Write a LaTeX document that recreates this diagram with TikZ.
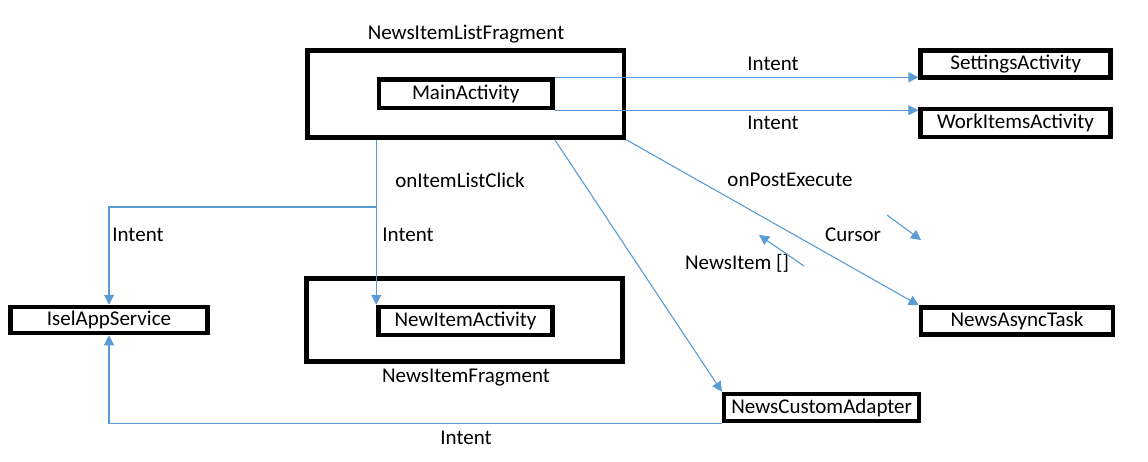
\documentclass[tikz,border=0pt]{standalone}
\usepackage{fontspec}
\setmainfont{Carlito}
\usetikzlibrary{arrows.meta,calc}
\definecolor{lineblue}{RGB}{91,155,213}
\tikzset{
  box/.style={draw=black, line width=4.5pt, rectangle, inner sep=0pt, fill=white,
    font=\fontsize{21}{25}\selectfont},
  lbl/.style={inner sep=0pt, font=\fontsize{21}{25}\selectfont},
  conn/.style={draw=lineblue, line width=1.1pt, -{Triangle[length=10pt,width=10pt]}},
  plain/.style={draw=lineblue, line width=1.1pt}
}
\begin{document}
\begin{tikzpicture}[x=1pt,y=-1pt]
\useasboundingbox (0,0) rectangle (1148,461);
% containers
\node[box, minimum width=316.5pt, minimum height=87pt] (lf) at (465.75,94) {};
\node[box, minimum width=316pt, minimum height=83pt] (if) at (464.5,320) {};
% boxes
\node[box, minimum width=173.5pt, minimum height=28.5pt] (ma) at (465.75,93.75) {MainActivity};
\node[box, minimum width=190pt, minimum height=27pt] (sa) at (1015.7,64.2) {SettingsActivity};
\node[box, minimum width=190pt, minimum height=28pt] (wa) at (1015.5,123) {WorkItemsActivity};
\node[box, minimum width=192pt, minimum height=27pt] (nat) at (1017,321) {NewsAsyncTask};
\node[box, minimum width=195pt, minimum height=27pt] (nca) at (821.7,407.5) {NewsCustomAdapter};
\node[box, minimum width=197pt, minimum height=26pt] (isel) at (109,320) {IselAppService};
\node[box, minimum width=174pt, minimum height=28pt] (ni) at (465.5,321) {NewItemActivity};
% labels
\node[lbl] (tlf) at (466,34) {NewsItemListFragment};
\node[lbl] (tif) at (466,378) {NewsItemFragment};
\node[lbl] (l1) at (773,64) {Intent};
\node[lbl] (l2) at (773,123) {Intent};
\node[lbl] (l3) at (460,180) {onItemListClick};
\node[lbl] (l4) at (138,235) {Intent};
\node[lbl] (l5) at (408,235) {Intent};
\node[lbl] (l6) at (790,180) {onPostExecute};
\node[lbl] (l7) at (853,235) {Cursor};
\node[lbl] (l8) at (737,263) {NewsItem []};
\node[lbl] (l9) at (466,438) {Intent};
% connectors
\draw[conn] (ma.north east) -- (ma.north east -| sa.west);
\draw[conn] (ma.south east) -- (ma.south east -| wa.west);
\coordinate (j) at ($(ni.north west |- 0,207)$);
\draw[conn] (lf.south -| ni.north west) -- (ni.north west);
\draw[conn] (j) -- (j -| isel.north) -- (isel.north);
\draw[conn] (lf.south -| ma.east) -- (nca.north west);
\draw[conn] (lf.south east) -- (nat.north west);
\draw[conn] (nca.south west) -- (nca.south west -| isel.south) -- (isel.south);
\coordinate (c1) at (887,215);
\coordinate (c2) at (921,240);
\draw[conn] (c1) -- (c2);
\coordinate (n1) at (804,266);
\coordinate (n2) at (759,235);
\draw[conn] (n1) -- (n2);
\end{tikzpicture}
\end{document}
